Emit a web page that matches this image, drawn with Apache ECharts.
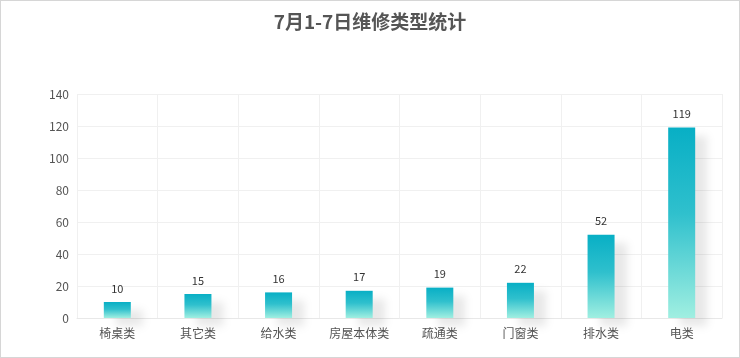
<!DOCTYPE html>
<html>
<head>
<meta charset="utf-8">
<script src="https://cdn.jsdelivr.net/npm/echarts@6/dist/echarts.min.js"></script>
<style>
  html, body { margin: 0; padding: 0; background: #fff; }
  #main { width: 738px; height: 356px; border: 1px solid #d6d6d6; }
</style>
</head>
<body>
<div id="main"></div>
<script>
var titleText = '7月1-7日维修类型统计'
var categories = ['椅桌类', '其它类', '给水类', '房屋本体类', '疏通类', '门窗类', '排水类', '电类']
var counts = [10, 15, 16, 17, 19, 22, 52, 119]

var myChart = echarts.init(document.getElementById('main'))
var font = '"Noto Sans CJK SC", "Microsoft YaHei", sans-serif'

var option = {
  title: {
    text: titleText,
    left: 'center',
    top: 6,
    textStyle: { fontSize: 19, fontWeight: 'bold', color: '#555', fontFamily: font }
  },
  grid: { left: 76, right: 17, top: 93, bottom: 39 },
  xAxis: {
    type: 'category',
    data: categories,
    axisLine: { lineStyle: { color: '#e8e8e8' } },
    axisTick: { show: false },
    axisLabel: { color: '#555', fontSize: 12, margin: 9, fontFamily: font },
    splitLine: { show: true, lineStyle: { color: '#f0f0f0' } }
  },
  yAxis: {
    type: 'value',
    min: 0,
    max: 140,
    interval: 20,
    axisLine: { show: false },
    axisTick: { show: false },
    axisLabel: { color: '#555', fontSize: 12, margin: 8, fontFamily: font },
    splitLine: { show: true, lineStyle: { color: '#f0f0f0' } }
  },
  series: [{
    // 维修数量
    type: 'bar',
    data: counts,
    barWidth: 27,
    label: {
      show: true,
      position: 'top',
      distance: 8,
      color: '#333',
      fontSize: 11,
      fontFamily: font
    },
    itemStyle: {
      color: new echarts.graphic.LinearGradient(0, 0, 0, 1, [
        { offset: 0, color: '#08afc5' },
        { offset: 0.45, color: '#2fc0cd' },
        { offset: 1, color: '#a0efe1' }
      ]),
      shadowColor: 'rgba(0,0,0,0.09)',
      shadowBlur: 8,
      shadowOffsetX: 12,
      shadowOffsetY: 8
    }
  }]
}
myChart.setOption(option)
</script>
</body>
</html>
